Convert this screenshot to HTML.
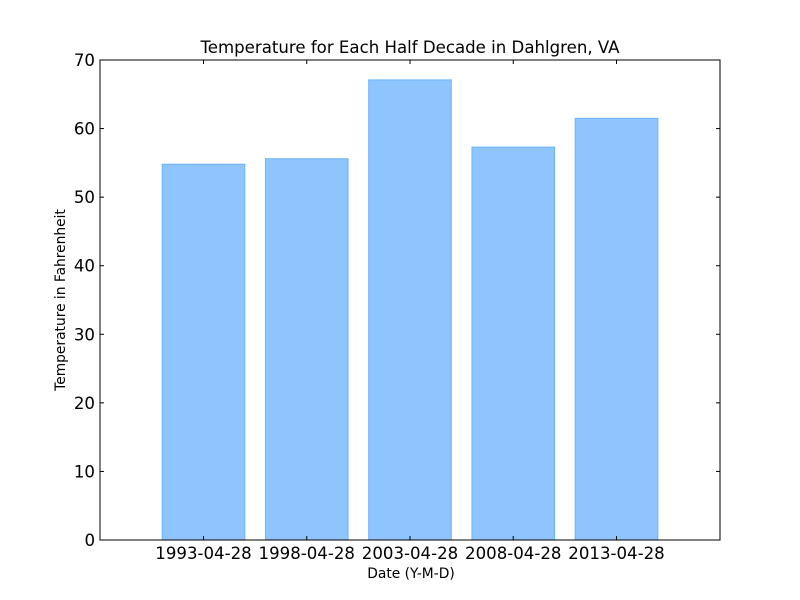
<!DOCTYPE html>
<html><head><meta charset="utf-8"><style>
html,body{margin:0;padding:0;background:#fff;}
svg{display:block;font-family:"DejaVu Sans","Liberation Sans",sans-serif;}
</style></head><body>
<svg id="chart" width="800" height="600">
<rect x="0" y="0" width="800" height="600" fill="#fff"/>
<text x="410" y="53" font-size="16.6" text-anchor="middle">Temperature for Each Half Decade in Dahlgren, VA</text>
<text x="411" y="578" font-size="13.8" text-anchor="middle">Date (Y-M-D)</text>
<text transform="translate(65,300) rotate(-90)" font-size="13.8" text-anchor="middle">Temperature in Fahrenheit</text>
<g id="bars"></g>
<g id="ticks"></g>
<rect x="100" y="60" width="620" height="480" fill="none" stroke="#000" stroke-width="1"/>
</svg>
<script>
const categories = ["1993-04-28","1998-04-28","2003-04-28","2008-04-28","2013-04-28"];
const values = [54.8, 55.6, 67.1, 57.3, 61.5];
const yTicks = [0,10,20,30,40,50,60,70];
const NS="http://www.w3.org/2000/svg";
const L=100,R=720,T=60,B=540,YMAX=70;
function y(v){return B-(v/YMAX)*(B-T);}
function x(i){return 203.5+i*103.25;}
const unit=103.25, bw=0.8*unit;
const bars=document.getElementById('bars'), ticks=document.getElementById('ticks');
function mk(tag,attrs,parent){const e=document.createElementNS(NS,tag);for(const k in attrs)e.setAttribute(k,attrs[k]);parent.appendChild(e);return e;}
values.forEach((v,i)=>{
  const r=mk('rect',{x:x(i)-bw/2,y:y(v),width:bw,height:B-y(v),fill:'#8fc5ff',stroke:'#6ab4fa','stroke-width':1},bars);
  
  
});
categories.forEach((c,i)=>{
  const t=mk('text',{x:x(i),y:B+19,'font-size':16.6,'text-anchor':'middle'},ticks);
  t.textContent=c;
  
  
  const a=mk('line',{x1:x(i),x2:x(i),y1:B,y2:B-4,stroke:'#000'},ticks);
  
  
  const b=mk('line',{x1:x(i),x2:x(i),y1:T,y2:T+4,stroke:'#000'},ticks);
  
  
});
yTicks.forEach(v=>{
  const t=mk('text',{x:L-5,y:y(v)+6,'font-size':16.6,'text-anchor':'end'},ticks);
  t.textContent=v;
  
  
  const a=mk('line',{x1:L,x2:L+4,y1:y(v),y2:y(v),stroke:'#000'},ticks);
  
  
  const b=mk('line',{x1:R,x2:R-4,y1:y(v),y2:y(v),stroke:'#000'},ticks);
  
  
});
</script>
</body></html>
